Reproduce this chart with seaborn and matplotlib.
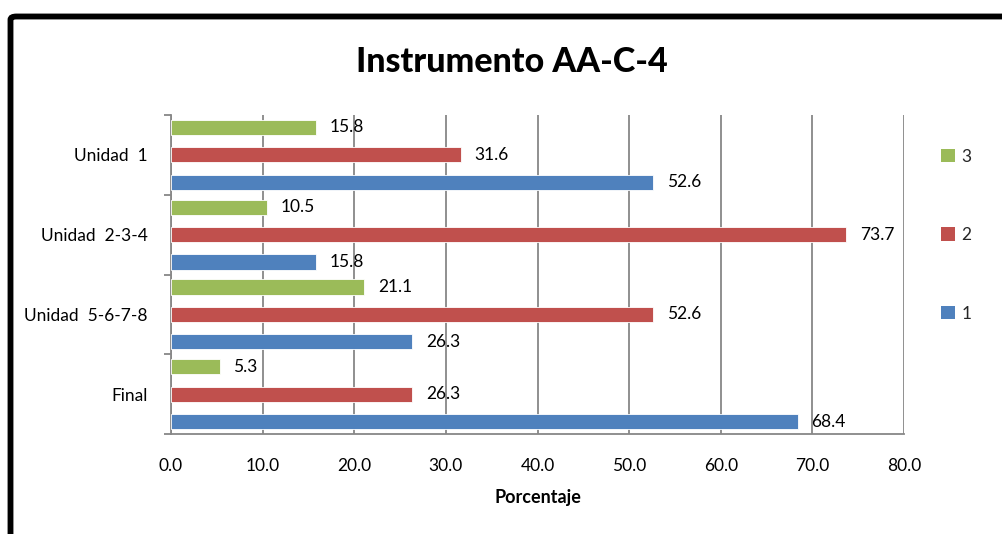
import matplotlib
matplotlib.use("Agg")
import matplotlib.pyplot as plt
from matplotlib.patches import FancyBboxPatch, Patch
import pandas as pd
import seaborn as sns

# Data
categories = ["Unidad  1", "Unidad  2-3-4", "Unidad  5-6-7-8", "Final"]
serie_3 = [15.8, 10.5, 21.1, 5.3]
serie_2 = [31.6, 73.7, 52.6, 26.3]
serie_1 = [52.6, 15.8, 26.3, 68.4]
series_names = ["3", "2", "1"]
x_ticks = [0, 10, 20, 30, 40, 50, 60, 70, 80]

colors = {"3": "#9BBB59", "2": "#C0504D", "1": "#4F81BD"}
grid_color = "#878787"

rows = []
for name, vals in zip(series_names, [serie_3, serie_2, serie_1]):
    for cat, v in zip(categories, vals):
        rows.append({"Categoria": cat, "Serie": name, "Porcentaje": v})
df = pd.DataFrame(rows)

sns.set_theme(style="white")
plt.rcParams["font.family"] = ["Lato", "DejaVu Sans"]

W, H = 1002, 534
fig = plt.figure(figsize=(W / 100, H / 100), dpi=100)
ax = fig.add_axes([171 / W, 1 - 434 / H, (904 - 171) / W, (434 - 115) / H])

sns.barplot(
    data=df, y="Categoria", x="Porcentaje", hue="Serie",
    order=categories, hue_order=series_names, palette=colors,
    orient="h", width=1.03, gap=0.45, errorbar=None, saturation=1,
    edgecolor="white", linewidth=0.6, legend=False, ax=ax, zorder=3,
)

for cont in ax.containers:
    ax.bar_label(cont, fmt="%.1f", padding=10, fontsize=12.5, color="black")

ax.set_xlim(0, 80)
ax.set_ylim(len(categories) - 0.5, -0.5)
ax.set_xticks(x_ticks)
ax.set_xticklabels([f"{t:.1f}" for t in x_ticks])
ax.set_yticks(range(len(categories)))
ax.set_yticks([i - 0.5 for i in range(len(categories) + 1)], minor=True)

ax.xaxis.grid(True, color=grid_color, linewidth=1.3, zorder=0)
ax.yaxis.grid(False)
ax.set_axisbelow(True)

for side in ["top", "right"]:
    ax.spines[side].set_visible(False)
for side in ["left", "bottom"]:
    ax.spines[side].set_color(grid_color)
    ax.spines[side].set_linewidth(1.3)

ax.tick_params(axis="x", which="major", length=5, width=1.3, color=grid_color,
               pad=12, labelsize=12.5, labelcolor="black")
ax.tick_params(axis="y", which="major", length=0, pad=17, labelsize=12.5,
               labelcolor="black")
ax.tick_params(axis="y", which="minor", length=5, width=1.3, color=grid_color,
               left=True)

ax.set_ylabel("")
ax.set_xlabel("Porcentaje", fontsize=13, fontweight="bold", labelpad=11,
              color="black")

fig.text(512 / W, 1 - 62 / H, "Instrumento AA-C-4", ha="center", va="center",
         fontsize=24.5, fontweight="black", color="black")

handles = [Patch(facecolor=colors[s], edgecolor="none", label=s) for s in series_names]
fig.legend(handles=handles, loc="center left", bbox_to_anchor=(925 / W, 1 - 235 / H),
           frameon=False, fontsize=12.5, handlelength=0.8, handleheight=0.8,
           handletextpad=0.4, labelspacing=3.6)

frame = FancyBboxPatch((10.5 / W, -60 / H), 1100 / W, (517.5 + 60) / H,
                       boxstyle="round,pad=0,rounding_size=0.006",
                       transform=fig.transFigure, facecolor="none",
                       edgecolor="black", linewidth=4.2, clip_on=False)
fig.add_artist(frame)

fig.savefig("out.png", dpi=100, facecolor="white")
